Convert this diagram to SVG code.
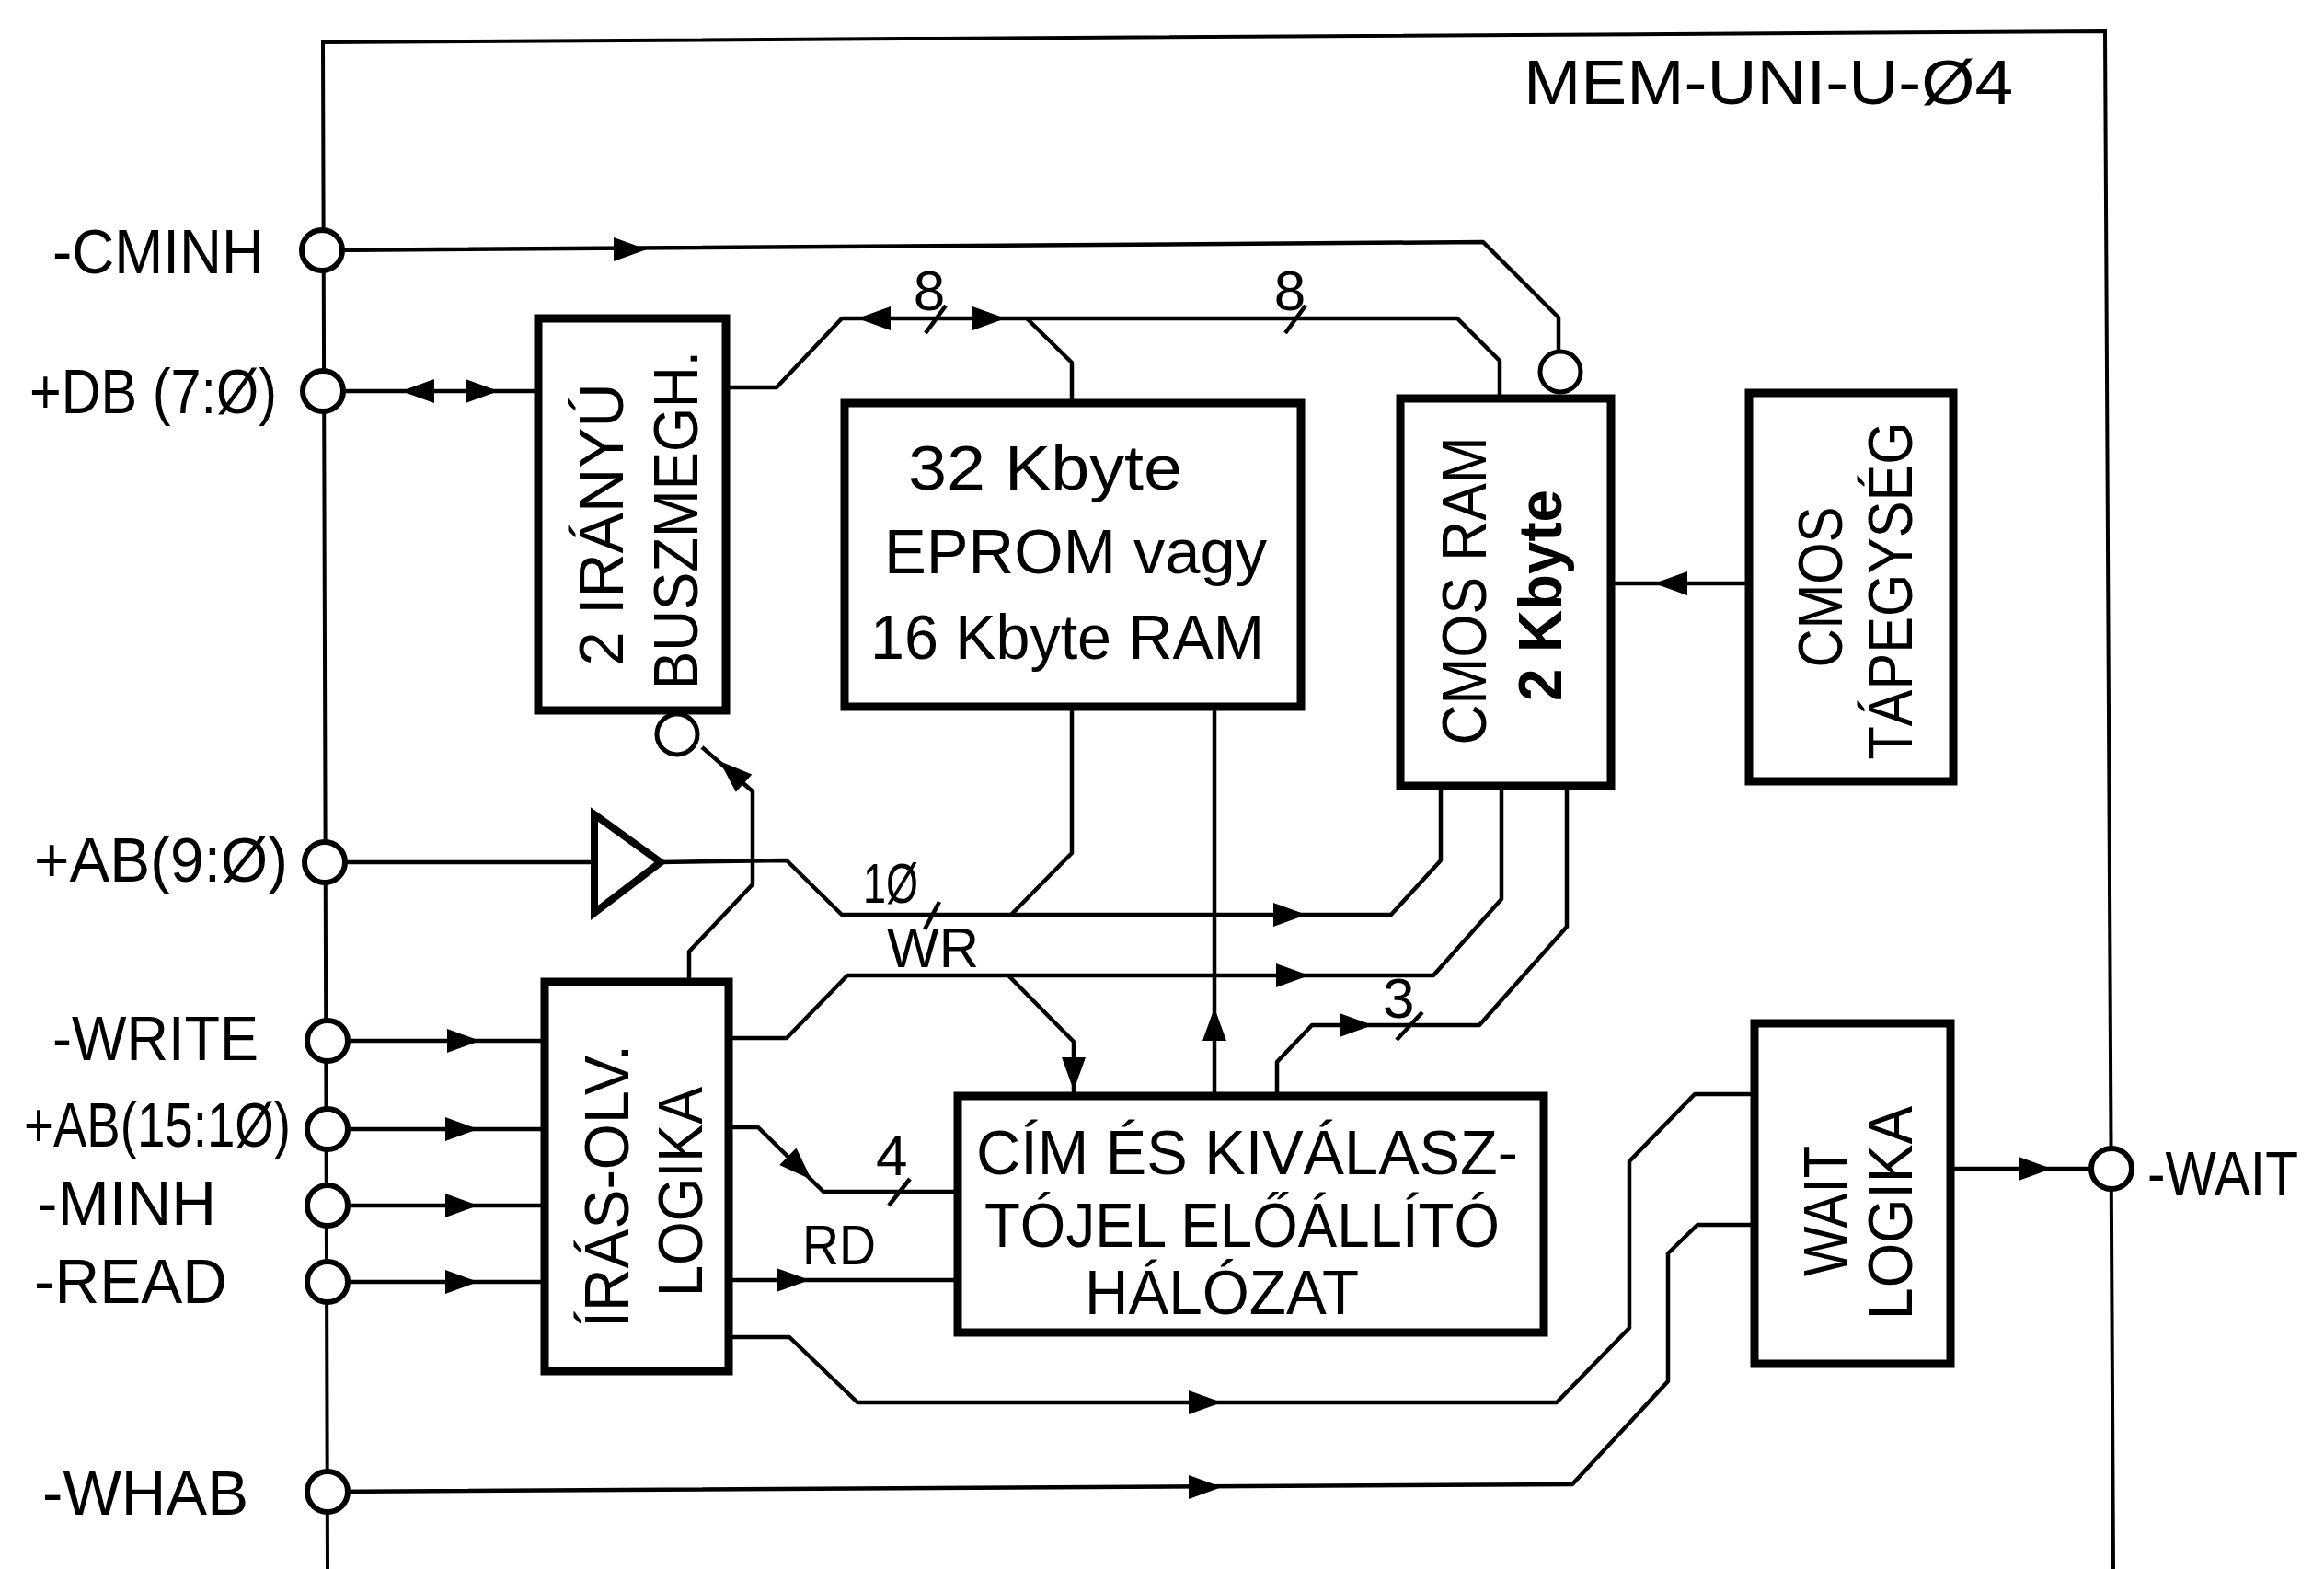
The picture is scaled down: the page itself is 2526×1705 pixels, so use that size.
<svg xmlns="http://www.w3.org/2000/svg" xmlns:xlink="http://www.w3.org/1999/xlink" width="2526" height="1705" viewBox="0 0 2526 1705">
<defs>
<style>
.t{font-family:"Liberation Sans",Arial,sans-serif;font-size:68px;fill:#000}
.tb{font-family:"Liberation Sans",Arial,sans-serif;font-size:66px;fill:#000;font-weight:bold}
.s{font-family:"Liberation Sans",Arial,sans-serif;font-size:62px;fill:#000}
.box{fill:none;stroke:#000;stroke-width:9}
.ln{fill:none;stroke:#000;stroke-width:4.5;stroke-linejoin:round}
.frame{fill:none;stroke:#000;stroke-width:4}
.pin{fill:#fff;stroke:#000;stroke-width:6}
.bub{fill:#fff;stroke:#000;stroke-width:5}
</style>
<path id="arr" d="M0,0 L-36,-13 L-36,13 Z" fill="#000"/>
</defs>
<rect width="2526" height="1705" fill="#fff"/>
<g id="frame">
<polyline class="frame" points="356,1705 351,46 2288,34 2297,1705"/>
<text class="t" x="1656" y="113" textLength="532" lengthAdjust="spacingAndGlyphs">MEM-UNI-U-Ø4</text>
</g>
<g id="connectors">
<polyline class="ln" points="350,272 1612,263 1694,345 1694,382"/>
<polyline class="ln" points="351,425 585,425"/>
<polyline class="ln" points="789,421 844,421 915,346 1584,346 1630,392 1630,433"/>
<polyline class="ln" points="1116,346 1165,394 1165,438"/>
<polyline class="ln" points="353,937 646,937"/>
<polyline class="ln" points="718,937 855,935 915,994 1512,994 1566,935 1566,854"/>
<polyline class="ln" points="1165,768 1165,927 1099,994"/>
<polyline class="ln" points="1320,768 1320,1191"/>
<polyline class="ln" points="749,1067 749,1034 818,961 818,860 763,812"/>
<polyline class="ln" points="356,1131 592,1131"/>
<polyline class="ln" points="356,1227 592,1227"/>
<polyline class="ln" points="356,1310 592,1310"/>
<polyline class="ln" points="356,1393 592,1393"/>
<polyline class="ln" points="792,1128 855,1128 921,1060 1558,1060 1632,977 1632,854"/>
<polyline class="ln" points="1096,1060 1167,1132 1167,1191"/>
<polyline class="ln" points="792,1225 824,1225 895,1295 1041,1295"/>
<polyline class="ln" points="792,1391 1041,1391"/>
<polyline class="ln" points="792,1453 858,1453 932,1524 1692,1524 1771,1443 1771,1262 1842,1189 1907,1189"/>
<polyline class="ln" points="1388,1191 1388,1154 1426,1114 1608,1114 1703,1007 1703,854"/>
<polyline class="ln" points="356,1621 1709,1613 1813,1501 1813,1362 1845,1331 1907,1331"/>
<polyline class="ln" points="2120,1270 2297,1270"/>
<polyline class="ln" points="1901,634 1751,634"/>
<!-- bus slashes -->
<line class="ln" x1="1006" y1="362" x2="1028" y2="332"/>
<line class="ln" x1="1397" y1="362" x2="1419" y2="332"/>
<line class="ln" x1="1005" y1="1010" x2="1021" y2="980"/>
<line class="ln" x1="1518" y1="1130" x2="1546" y2="1100"/>
<line class="ln" x1="966" y1="1310" x2="989" y2="1281"/>
<!-- arrowheads -->
<use xlink:href="#arr" transform="translate(703,271)"/>
<use xlink:href="#arr" transform="translate(436,425) rotate(180)"/>
<use xlink:href="#arr" transform="translate(542,425)"/>
<use xlink:href="#arr" transform="translate(932,346) rotate(180)"/>
<use xlink:href="#arr" transform="translate(1093,346)"/>
<use xlink:href="#arr" transform="translate(782,827) rotate(-137.7)"/>
<use xlink:href="#arr" transform="translate(1420,994)"/>
<use xlink:href="#arr" transform="translate(1320,1095) rotate(-90)"/>
<use xlink:href="#arr" transform="translate(522,1131)"/>
<use xlink:href="#arr" transform="translate(1423,1060)"/>
<use xlink:href="#arr" transform="translate(1167,1185) rotate(90)"/>
<use xlink:href="#arr" transform="translate(1492,1114)"/>
<use xlink:href="#arr" transform="translate(520,1227)"/>
<use xlink:href="#arr" transform="translate(882,1282) rotate(44.6)"/>
<use xlink:href="#arr" transform="translate(520,1310)"/>
<use xlink:href="#arr" transform="translate(520,1393)"/>
<use xlink:href="#arr" transform="translate(880,1391)"/>
<use xlink:href="#arr" transform="translate(1328,1524)"/>
<use xlink:href="#arr" transform="translate(1328,1616)"/>
<use xlink:href="#arr" transform="translate(2230,1270)"/>
<use xlink:href="#arr" transform="translate(1798,634) rotate(180)"/>
<!-- bus labels -->
<text class="s" x="1010" y="337" text-anchor="middle">8</text>
<text class="s" x="1402" y="337" text-anchor="middle">8</text>
<text class="s" x="938" y="981" textLength="60" lengthAdjust="spacingAndGlyphs">1Ø</text>
<text class="s" x="964" y="1051" textLength="100" lengthAdjust="spacingAndGlyphs">WR</text>
<text class="s" x="1503" y="1106">3</text>
<text class="s" x="952" y="1277">4</text>
<text class="s" x="872" y="1374" textLength="80" lengthAdjust="spacingAndGlyphs">RD</text>
</g>
<g id="pin-cminh"><circle class="pin" cx="350" cy="272" r="22"/><text class="t" x="57" y="297" textLength="230" lengthAdjust="spacingAndGlyphs">-CMINH</text></g>
<g id="pin-db"><circle class="pin" cx="351" cy="425" r="22"/><text class="t" x="32" y="449" textLength="269" lengthAdjust="spacingAndGlyphs">+DB (7:Ø)</text></g>
<g id="pin-ab90"><circle class="pin" cx="353" cy="937" r="22"/><text class="t" x="37" y="958" textLength="276" lengthAdjust="spacingAndGlyphs">+AB(9:Ø)</text></g>
<g id="pin-write"><circle class="pin" cx="356" cy="1131" r="22"/><text class="t" x="57" y="1152" textLength="224" lengthAdjust="spacingAndGlyphs">-WRITE</text></g>
<g id="pin-ab1510"><circle class="pin" cx="356" cy="1227" r="22"/><text class="t" x="26" y="1246" textLength="290" lengthAdjust="spacingAndGlyphs">+AB(15:1Ø)</text></g>
<g id="pin-minh"><circle class="pin" cx="356" cy="1310" r="22"/><text class="t" x="40" y="1331" textLength="195" lengthAdjust="spacingAndGlyphs">-MINH</text></g>
<g id="pin-read"><circle class="pin" cx="356" cy="1393" r="22"/><text class="t" x="37" y="1416" textLength="210" lengthAdjust="spacingAndGlyphs">-READ</text></g>
<g id="pin-whab"><circle class="pin" cx="356" cy="1621" r="22"/><text class="t" x="46" y="1646" textLength="224" lengthAdjust="spacingAndGlyphs">-WHAB</text></g>
<g id="pin-wait"><circle class="pin" cx="2295" cy="1270" r="22"/><text class="t" x="2334" y="1299" font-size="60" textLength="164" lengthAdjust="spacingAndGlyphs">-WAIT</text></g>
<g id="buszmegh">
<rect class="box" x="585" y="346" width="204" height="426"/>
<circle class="bub" cx="736" cy="798" r="22"/>
<text class="t" transform="translate(677,570) rotate(-90)" text-anchor="middle" textLength="307" lengthAdjust="spacingAndGlyphs">2 IRÁNYÚ</text>
<text class="t" transform="translate(758,565) rotate(-90)" text-anchor="middle" textLength="368" lengthAdjust="spacingAndGlyphs">BUSZMEGH.</text>
</g>
<g id="eprom">
<rect class="box" x="918" y="438" width="496" height="330"/>
<text class="t" x="987" y="532" textLength="298" lengthAdjust="spacingAndGlyphs">32 Kbyte</text>
<text class="t" x="961" y="623" textLength="416" lengthAdjust="spacingAndGlyphs">EPROM vagy</text>
<text class="t" x="946" y="716" textLength="428" lengthAdjust="spacingAndGlyphs">16 Kbyte RAM</text>
</g>
<g id="cmosram">
<rect class="box" x="1522" y="433" width="229" height="421"/>
<circle class="bub" cx="1696" cy="404" r="22" stroke-width="6"/>
<text class="t" transform="translate(1615,642) rotate(-90)" text-anchor="middle" textLength="335" lengthAdjust="spacingAndGlyphs">CMOS RAM</text>
<text class="tb" transform="translate(1697,647) rotate(-90)" text-anchor="middle" textLength="230" lengthAdjust="spacingAndGlyphs">2 Kbyte</text>
</g>
<g id="tapegyseg">
<rect class="box" x="1901" y="427" width="222" height="422"/>
<text class="t" transform="translate(2002,638) rotate(-90)" text-anchor="middle" textLength="175" lengthAdjust="spacingAndGlyphs">CMOS</text>
<text class="t" transform="translate(2078,642) rotate(-90)" text-anchor="middle" textLength="367" lengthAdjust="spacingAndGlyphs">TÁPEGYSÉG</text>
</g>
<g id="buffer">
<polygon points="646,885 646,992 718,937" fill="#fff" stroke="#000" stroke-width="8" stroke-linejoin="miter"/>
</g>
<g id="irasolv">
<rect class="box" x="592" y="1067" width="200" height="423"/>
<text class="t" transform="translate(683,1289) rotate(-90)" text-anchor="middle" textLength="308" lengthAdjust="spacingAndGlyphs">ÍRÁS-OLV.</text>
<text class="t" transform="translate(763,1295) rotate(-90)" text-anchor="middle" textLength="228" lengthAdjust="spacingAndGlyphs">LOGIKA</text>
</g>
<g id="cimhalozat">
<rect class="box" x="1041" y="1191" width="637" height="257"/>
<text class="t" x="1061" y="1276" font-size="64" textLength="589" lengthAdjust="spacingAndGlyphs">CÍM ÉS KIVÁLASZ-</text>
<text class="t" x="1070" y="1355" font-size="64" textLength="560" lengthAdjust="spacingAndGlyphs">TÓJEL ELŐÁLLÍTÓ</text>
<text class="t" x="1179" y="1428" font-size="64" textLength="298" lengthAdjust="spacingAndGlyphs">HÁLÓZAT</text>
</g>
<g id="waitlogika">
<rect class="box" x="1907" y="1112" width="213" height="370"/>
<text class="t" transform="translate(2008,1316) rotate(-90)" text-anchor="middle" textLength="142" lengthAdjust="spacingAndGlyphs">WAIT</text>
<text class="t" transform="translate(2078,1318) rotate(-90)" text-anchor="middle" textLength="232" lengthAdjust="spacingAndGlyphs">LOGIKA</text>
</g>
</svg>
